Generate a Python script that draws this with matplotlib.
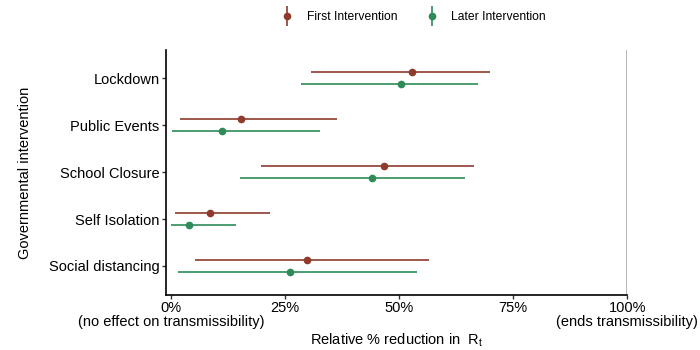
import numpy as np
import matplotlib
matplotlib.use("Agg")
from matplotlib import pyplot as plt
from matplotlib.lines import Line2D

plt.rcParams['font.family'] = ['Liberation Sans', 'DejaVu Sans']
plt.rcParams['mathtext.fontset'] = 'custom'
plt.rcParams['mathtext.rm'] = 'Liberation Sans'
plt.rcParams['mathtext.it'] = 'Liberation Sans'

interventions = ['Lockdown', 'Public Events', 'School Closure', 'Self Isolation', 'Social distancing']

first_mean = [0.528, 0.154, 0.468, 0.086, 0.298]
first_low = [0.307, 0.020, 0.197, 0.009, 0.053]
first_high = [0.699, 0.364, 0.664, 0.218, 0.566]

later_mean = [0.504, 0.111, 0.440, 0.040, 0.262]
later_low = [0.284, 0.002, 0.151, 0.000, 0.015]
later_high = [0.673, 0.326, 0.644, 0.143, 0.540]

tick_values = [0, 0.25, 0.5, 0.75, 1.0]
tick_labels = ['0%\n(no effect on transmissibility)', '25%', '50%', '75%',
               '100%\n(ends transmissibility)']

red = '#8E3B2E'
green = '#2E8B57'

fig = plt.figure(figsize=(7, 3.5), dpi=100)
ax = fig.add_axes([0.237, 0.157, 0.659, 0.70])

y = np.arange(len(interventions), 0, -1)
off = 0.127

for mean, low, high, color, dy in [(first_mean, first_low, first_high, red, off),
                                    (later_mean, later_low, later_high, green, -off)]:
    mean = np.array(mean)
    err = [mean - np.array(low), np.array(high) - mean]
    ax.errorbar(mean, y + dy, xerr=err, fmt='o', color=color, ecolor=color,
                markersize=4.5, elinewidth=1.2, capsize=0)

ax.axvline(1.0, color='#aaaaaa', linewidth=1.2, zorder=0)

ax.set_xlim(-0.011, 1.0)
ax.set_ylim(0.38, 5.6)
ax.set_yticks(y)
ax.set_yticklabels(interventions, fontsize=10.5)
ax.set_xticks(tick_values)
ax.set_xticklabels(tick_labels, fontsize=10.5, linespacing=1.0)
ax.tick_params(length=3, width=1, color='#333333')
ax.tick_params(axis='x', pad=1.5)
ax.tick_params(axis='y', pad=1.5)

for s in ['top', 'right']:
    ax.spines[s].set_visible(False)
for s in ['left', 'bottom']:
    ax.spines[s].set_linewidth(1.2)

ax.set_xlabel(r'Relative % reduction in  $\mathrm{R_t}$', fontsize=10.5, labelpad=2)
ax.set_ylabel('Governmental intervention', fontsize=10.5, labelpad=12)

handles = []
for color in [red, green]:
    bar = Line2D([], [], color=color, marker='|', markersize=14, markeredgewidth=1.2,
                 linestyle='none')
    dot = Line2D([], [], color=color, marker='o', markersize=4.5, linestyle='none')
    handles.append((bar, dot))
fig.legend(handles, ['First Intervention', 'Later Intervention'], loc='center',
           bbox_to_anchor=(0.59, 0.95), ncol=2, frameon=False, fontsize=8.7,
           handlelength=1.2, columnspacing=2.3, handletextpad=1.0)

fig.savefig('out.png', dpi=100)
